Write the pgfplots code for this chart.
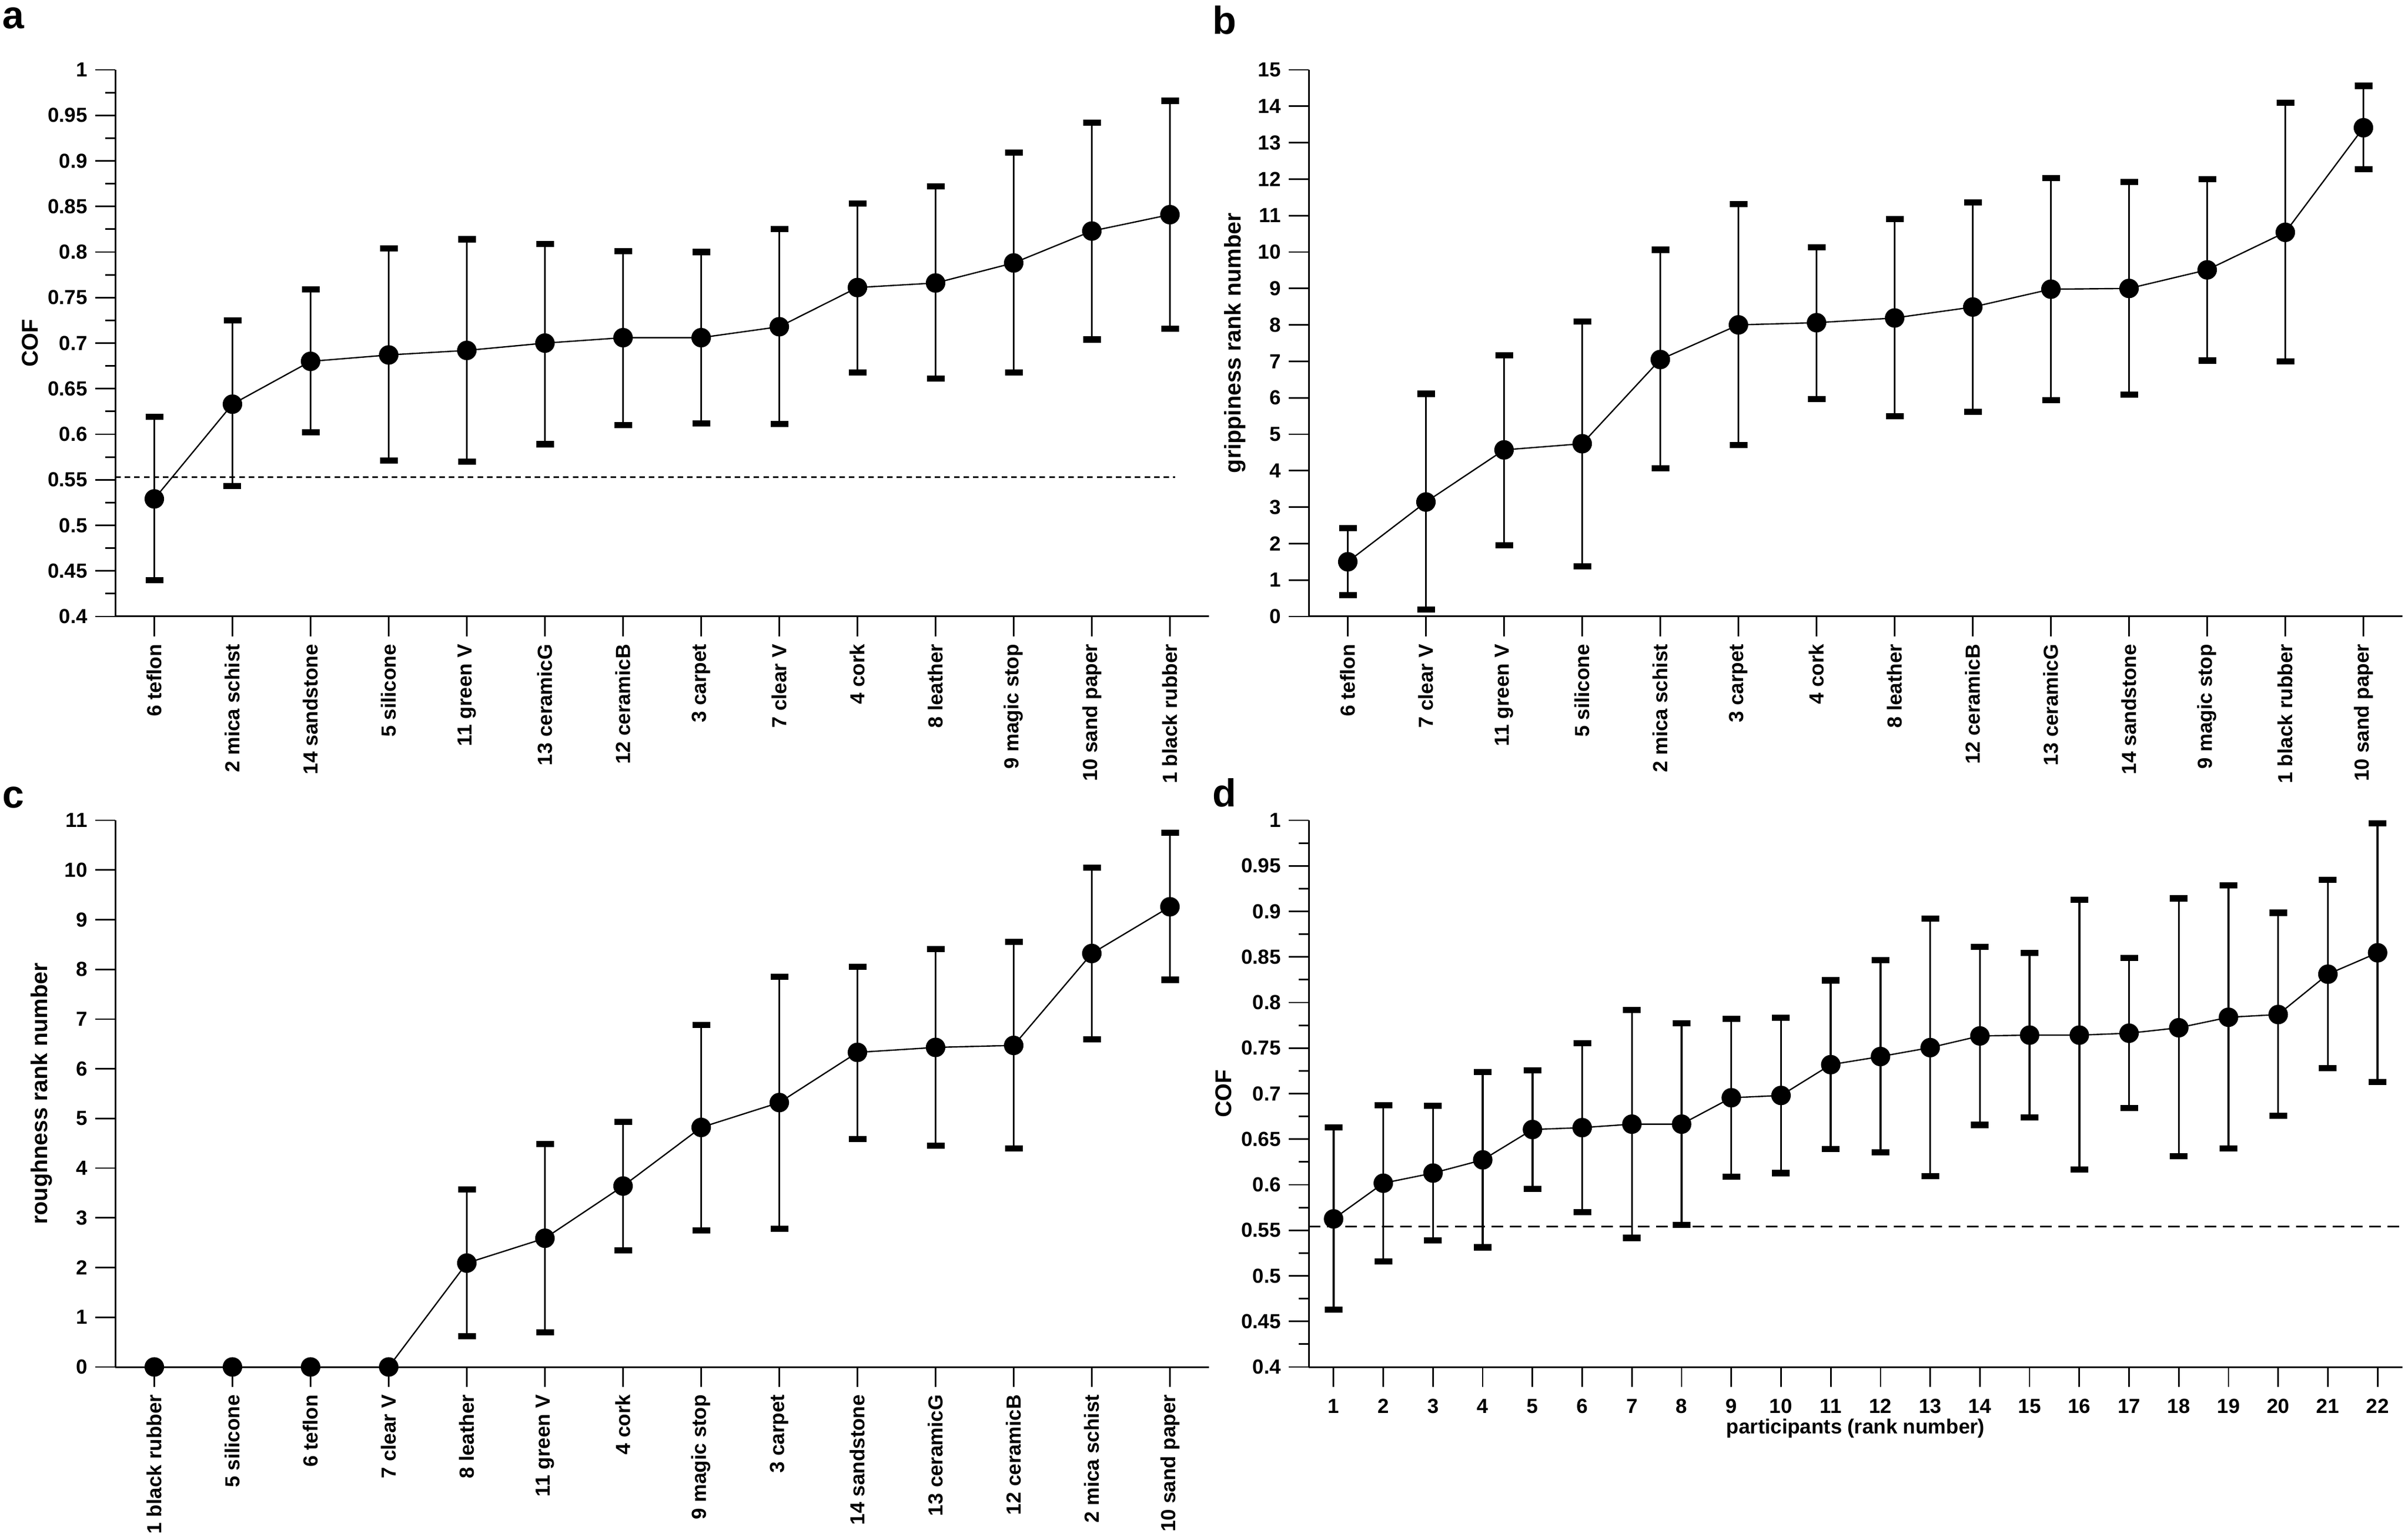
\documentclass[border=0pt]{standalone}
\usepackage{fontspec}
\setmainfont{Liberation Sans}
\usepackage{pgfplots}
\usepackage{pgfplotstable}
\pgfplotsset{compat=1.18}

\pgfplotstableread{
x y hi lo
0 0.529 0.619 0.440
1 0.633 0.725 0.543
2 0.680 0.759 0.602
3 0.687 0.804 0.571
4 0.692 0.814 0.570
5 0.700 0.809 0.589
6 0.706 0.801 0.610
7 0.706 0.800 0.612
8 0.718 0.825 0.611
9 0.761 0.853 0.668
10 0.766 0.872 0.661
11 0.788 0.909 0.668
12 0.823 0.942 0.704
13 0.841 0.966 0.716
}\dataa

\pgfplotstableread{
x y hi lo
0 1.50 2.42 0.59
1 3.14 6.11 0.19
2 4.57 7.17 1.95
3 4.74 8.09 1.38
4 7.05 10.06 4.07
5 8.00 11.32 4.70
6 8.06 10.13 5.97
7 8.19 10.90 5.49
8 8.49 11.36 5.61
9 8.98 12.03 5.94
10 9.00 11.92 6.09
11 9.51 12.00 7.02
12 10.54 14.10 7.00
13 13.41 14.56 12.27
}\datab

\pgfplotstableread{
x y
0 0
1 0
2 0
3 0
4 2.09
5 2.59
6 3.64
7 4.82
8 5.32
9 6.33
10 6.43
11 6.47
12 8.32
13 9.26
}\datac

\pgfplotstableread{
x y hi lo
4 2.09 3.57 0.62
5 2.59 4.49 0.70
6 3.64 4.93 2.35
7 4.82 6.88 2.75
8 5.32 7.85 2.78
9 6.33 8.05 4.59
10 6.43 8.41 4.45
11 6.47 8.55 4.40
12 8.32 10.05 6.59
13 9.26 10.75 7.79
}\datacerr

\pgfplotstableread{
x y hi lo
1 0.5625 0.6627 0.4627
2 0.6017 0.6870 0.5156
3 0.6128 0.6866 0.5390
4 0.6273 0.7237 0.5313
5 0.6606 0.7254 0.5953
6 0.6627 0.7552 0.5701
7 0.6665 0.7919 0.5416
8 0.6665 0.7774 0.5561
9 0.6955 0.7821 0.6090
10 0.6980 0.7834 0.6128
11 0.7318 0.8243 0.6392
12 0.7407 0.8465 0.6358
13 0.7505 0.8921 0.6094
14 0.7633 0.8610 0.6657
15 0.7642 0.8546 0.6738
16 0.7642 0.9126 0.6166
17 0.7663 0.8490 0.6840
18 0.7723 0.9143 0.6311
19 0.7838 0.9288 0.6397
20 0.7868 0.8985 0.6755
21 0.8311 0.9348 0.7279
22 0.8546 0.9966 0.7126
}\datad

\pgfplotsset{
  myax/.style={
    scale only axis, width=493.5pt, height=246.75pt,
    axis x line*=bottom, axis y line*=left,
    axis line style={line width=0.75pt, -, black},
    tick align=outside,
    major tick length=9pt, minor tick length=4.4pt,
    every tick/.style={black, line width=0.7pt},
    tick label style={font=\fontsize{9.2}{10}\selectfont\bfseries},
    label style={font=\fontsize{10.3}{12}\selectfont\bfseries},
    /pgf/number format/assume math mode=true,
    clip=false,
  },
  cat/.style={
    xmin=-0.5, xmax=13.5, xtick={0,...,13},
    xticklabel style={rotate=90, anchor=east},
  },
  errb/.style={
    draw=none, mark=none, forget plot,
    error bars/.cd, y dir=both, y explicit,
    error mark=-,
    error bar style={draw=black, line width=0.85pt, solid},
    error mark options={rotate=90, draw=black, line width=2.8pt, mark size=4pt, solid},
  },
  ln/.style={
    black, line width=0.6pt, mark=*, mark size=4.1pt,
    mark options={fill=black, draw=black, solid},
  },
  cofy/.style={
    ymin=0.4, ymax=1,
    ytick={0.4,0.45,0.5,0.55,0.6,0.65,0.7,0.75,0.8,0.85,0.9,0.95,1},
    yticklabels={0.4,0.45,0.5,0.55,0.6,0.65,0.7,0.75,0.8,0.85,0.9,0.95,1},
    minor y tick num=1,
  },
}

\begin{document}
\begin{tikzpicture}
\path[use as bounding box] (0,0) rectangle (1086.5pt,693.5pt);

\node[font=\fontsize{17.6}{20}\selectfont\bfseries, inner sep=0pt, anchor=center] at (5.95pt,685.25pt) {a};
\node[font=\fontsize{17.6}{20}\selectfont\bfseries, inner sep=0pt, anchor=center] at (552.6pt,684.4pt) {b};
\node[font=\fontsize{17.6}{20}\selectfont\bfseries, inner sep=0pt, anchor=center] at (5.95pt,333.6pt) {c};
\node[font=\fontsize{17.6}{20}\selectfont\bfseries, inner sep=0pt, anchor=center] at (552.6pt,335.6pt) {d};

% panel a
\begin{axis}[myax, cat, cofy,
  at={(52pt,415.25pt)}, anchor=south west,
  xticklabels={6 teflon, 2 mica schist, 14 sandstone, 5 silicone, 11 green V, 13 ceramicG, 12 ceramicB, 3 carpet, 7 clear V, 4 cork, 8 leather, 9 magic stop, 10 sand paper, 1 black rubber},
  ylabel={COF},
  ylabel style={at={(axis description cs:-0.078,0.5)}, anchor=center},
]
\addplot[black, line width=0.7pt, dash pattern=on 2.5pt off 1.8pt] coordinates {(-0.5,0.553) (13.07,0.553)};
\addplot[errb] table[x=x, y=y, y error plus expr=\thisrow{hi}-\thisrow{y}, y error minus expr=\thisrow{y}-\thisrow{lo}] {\dataa};
\addplot[ln] table[x=x, y=y] {\dataa};
\end{axis}

% panel b
\begin{axis}[myax, cat,
  at={(590.5pt,415.25pt)}, anchor=south west,
  ymin=0, ymax=15, ytick={0,...,15},
  xticklabels={6 teflon, 7 clear V, 11 green V, 5 silicone, 2 mica schist, 3 carpet, 4 cork, 8 leather, 12 ceramicB, 13 ceramicG, 14 sandstone, 9 magic stop, 1 black rubber, 10 sand paper},
  ylabel={grippiness rank number},
  ylabel style={at={(axis description cs:-0.0674,0.5)}, anchor=center},
]
\addplot[errb] table[x=x, y=y, y error plus expr=\thisrow{hi}-\thisrow{y}, y error minus expr=\thisrow{y}-\thisrow{lo}] {\datab};
\addplot[ln] table[x=x, y=y] {\datab};
\end{axis}

% panel c
\begin{axis}[myax, cat,
  at={(52pt,76.5pt)}, anchor=south west,
  ymin=0, ymax=11, ytick={0,...,11},
  xticklabels={1 black rubber, 5 silicone, 6 teflon, 7 clear V, 8 leather, 11 green V, 4 cork, 9 magic stop, 3 carpet, 14 sandstone, 13 ceramicG, 12 ceramicB, 2 mica schist, 10 sand paper},
  ylabel={roughness rank number},
  ylabel style={at={(axis description cs:-0.0674,0.5)}, anchor=center},
]
\addplot[errb] table[x=x, y=y, y error plus expr=\thisrow{hi}-\thisrow{y}, y error minus expr=\thisrow{y}-\thisrow{lo}] {\datacerr};
\addplot[ln] table[x=x, y=y] {\datac};
\end{axis}

% panel d
\begin{axis}[myax, cofy,
  at={(590.5pt,76.5pt)}, anchor=south west,
  xmin=0.5, xmax=22.5, xtick={1,...,22},
  xticklabel style={yshift=-2pt},
  xlabel={participants (rank number)},
  xlabel style={at={(axis description cs:0.5,0)}, anchor=base, yshift=-30pt, font=\fontsize{9.2}{10}\selectfont\bfseries},
  ylabel={COF},
  ylabel style={at={(axis description cs:-0.078,0.5)}, anchor=center},
]
\addplot[black, line width=0.6pt, dash pattern=on 5.25pt off 3pt] coordinates {(0.5,0.554) (22.5,0.554)};
\addplot[errb] table[x=x, y=y, y error plus expr=\thisrow{hi}-\thisrow{y}, y error minus expr=\thisrow{y}-\thisrow{lo}] {\datad};
\addplot[ln] table[x=x, y=y] {\datad};
\end{axis}
\end{tikzpicture}
\end{document}
